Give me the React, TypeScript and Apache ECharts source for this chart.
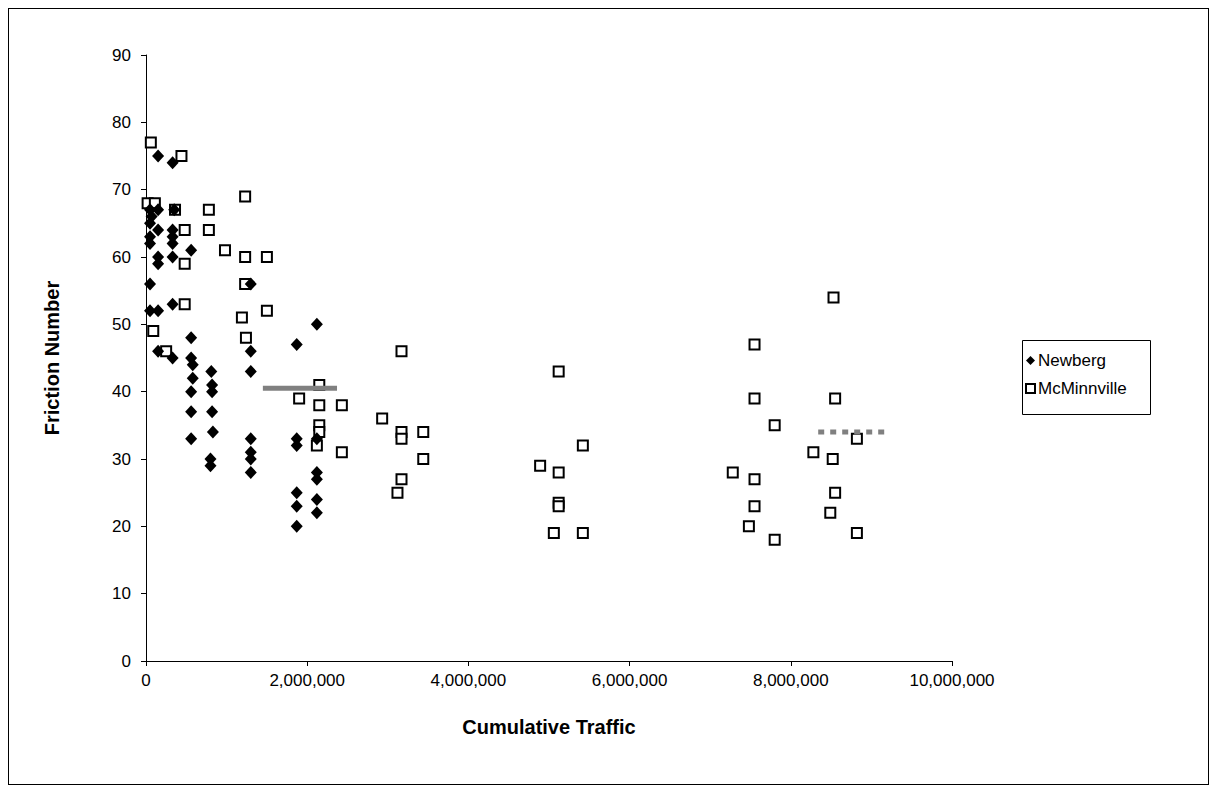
import { useEffect, useRef } from "react";
import * as echarts from "echarts";

// Newberg sections: cumulative traffic vs. friction number
const newbergTraffic = [
  50000, 70000, 50000, 50000, 50000, 50000, 50000,
  150000, 150000, 150000, 150000, 150000, 150000, 150000,
  330000, 350000, 330000, 330000, 330000, 330000, 330000, 330000,
  560000, 560000, 560000, 580000, 580000, 560000, 560000, 560000,
  810000, 820000, 820000, 820000, 830000, 800000, 800000,
  1300000, 1300000, 1300000, 1300000, 1300000, 1300000, 1300000,
  1870000, 1870000, 1870000, 1870000, 1870000, 1870000,
  2120000, 2120000, 2120000, 2120000, 2120000, 2120000,
];
const newbergFriction = [
  67, 66, 65, 63, 62, 56, 52,
  75, 67, 64, 60, 59, 52, 46,
  74, 67, 64, 63, 62, 60, 53, 45,
  61, 48, 45, 44, 42, 40, 37, 33,
  43, 41, 40, 37, 34, 30, 29,
  56, 46, 43, 33, 31, 30, 28,
  47, 33, 32, 25, 23, 20,
  50, 33, 28, 27, 24, 22,
];

// McMinnville sections
const mcminnvilleTraffic = [
  60000, 20000, 110000, 440000, 1230000, 360000, 780000,
  480000, 780000, 980000, 1230000, 1500000, 480000, 1230000,
  1500000, 480000, 1190000, 1240000, 90000, 250000,
  2150000, 1900000, 2150000, 2430000, 2150000, 2150000, 2120000, 2430000,
  2930000, 3170000, 3170000, 3170000, 3170000, 3120000, 3440000, 3440000,
  5120000, 4890000, 5120000, 5420000, 5120000, 5120000, 5060000, 5420000,
  7550000, 7550000, 7800000, 7280000, 7550000, 7550000, 7480000, 7800000,
  8280000, 8530000, 8550000, 8520000, 8550000, 8490000, 8820000, 8820000,
];
const mcminnvilleFriction = [
  77, 68, 68, 75, 69, 67, 67,
  64, 64, 61, 60, 60, 59, 56,
  52, 53, 51, 48, 49, 46,
  41, 39, 38, 38, 35, 34, 32, 31,
  36, 46, 34, 33, 27, 25, 34, 30,
  43, 29, 28, 32, 23.5, 23, 19, 19,
  47, 39, 35, 28, 27, 23, 20, 18,
  31, 54, 39, 30, 25, 22, 33, 19,
];

// Average friction markers over the traffic span of each group
const newbergMeanTraffic = [1450000, 2370000];
const newbergMeanFriction = [40.5, 40.5];
const mcminnvilleMeanTraffic = [8340000, 9230000];
const mcminnvilleMeanFriction = [34, 34];

const FONT = "'Liberation Sans', Arial, sans-serif";

const zip = (xs: number[], ys: number[]) => xs.map((x, i) => [x, ys[i]]);

export default function App() {
  const ref = useRef<HTMLDivElement>(null);

  useEffect(() => {
    if (!ref.current) return;
    const chart = echarts.init(ref.current, undefined, { renderer: "svg" });
    chart.setOption({
      animation: false,
      backgroundColor: "#ffffff",
      grid: { left: 137, right: 256, top: 46, bottom: 123, containLabel: false },
      xAxis: {
        type: "value",
        min: 0,
        max: 10000000,
        interval: 2000000,
        name: "Cumulative Traffic",
        nameLocation: "middle",
        nameGap: 56,
        nameTextStyle: { fontFamily: FONT, fontSize: 20, fontWeight: "bold", color: "#000" },
        axisLine: { lineStyle: { color: "#000", width: 1 } },
        axisTick: { show: true, inside: false, length: 5, lineStyle: { color: "#000" } },
        axisLabel: {
          fontFamily: FONT,
          fontSize: 17,
          color: "#000",
          margin: 11,
          formatter: (v: number) => v.toLocaleString("en-US"),
        },
        splitLine: { show: false },
      },
      yAxis: {
        type: "value",
        min: 0,
        max: 90,
        interval: 10,
        name: "Friction Number",
        nameLocation: "middle",
        nameGap: 84,
        nameRotate: 90,
        nameTextStyle: { fontFamily: FONT, fontSize: 20, fontWeight: "bold", color: "#000" },
        axisLine: { show: true, lineStyle: { color: "#000", width: 1 } },
        axisTick: { show: true, inside: false, length: 5, lineStyle: { color: "#000" } },
        axisLabel: { fontFamily: FONT, fontSize: 17, color: "#000", margin: 15 },
        splitLine: { show: false },
      },
      legend: {
        orient: "vertical",
        left: 1016,
        top: 343,
        itemWidth: 9,
        itemHeight: 9,
        itemGap: 11,
        padding: 0,
        textStyle: { fontFamily: FONT, fontSize: 17, color: "#000", padding: [0, 0, 0, -2] },
        data: [
          { name: "Newberg", icon: "diamond" },
          { name: "McMinnville", icon: "rect" },
        ],
      },
      graphic: [
        {
          type: "rect",
          left: 1011,
          top: 329,
          shape: { width: 128, height: 74 },
          style: { fill: "none", stroke: "#000", lineWidth: 1 },
          silent: true,
        },
      ],
      series: [
        {
          name: "McMinnville",
          type: "scatter",
          symbol: "rect",
          symbolSize: 10,
          itemStyle: { color: "#ffffff", borderColor: "#000", borderWidth: 2, opacity: 1 },
          data: zip(mcminnvilleTraffic, mcminnvilleFriction),
          z: 2,
        },
        {
          name: "Newberg",
          type: "scatter",
          symbol: "diamond",
          symbolSize: [12, 13],
          itemStyle: { color: "#000", opacity: 1 },
          data: zip(newbergTraffic, newbergFriction),
          z: 3,
        },
        {
          name: "Newberg mean",
          type: "line",
          symbol: "none",
          lineStyle: { color: "#808080", width: 5 },
          data: zip(newbergMeanTraffic, newbergMeanFriction),
          z: 4,
        },
        {
          name: "McMinnville mean",
          type: "line",
          symbol: "none",
          lineStyle: { color: "#808080", width: 5, type: [6, 6] },
          data: zip(mcminnvilleMeanTraffic, mcminnvilleMeanFriction),
          z: 4,
        },
      ],
    });
    return () => chart.dispose();
  }, []);

  return (
    <div
      style={{
        width: 1199,
        height: 775,
        border: "1px solid #000",
        background: "#fff",
      }}
    >
      <div ref={ref} style={{ width: 1199, height: 775 }} />
    </div>
  );
}
